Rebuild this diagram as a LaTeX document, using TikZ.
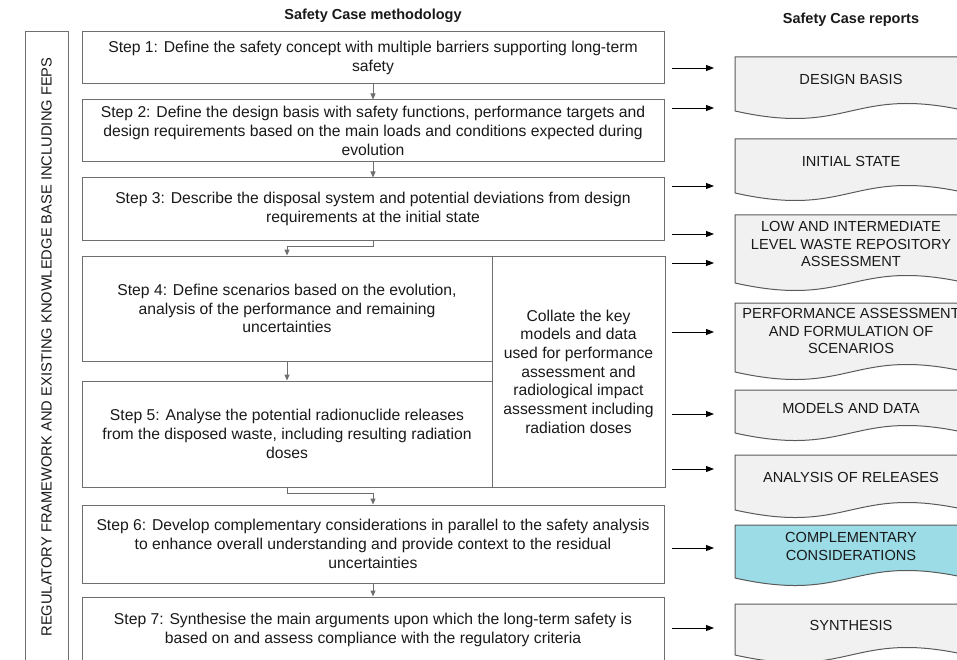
\documentclass[tikz,border=0pt]{standalone}
\usepackage{fontspec}
\setmainfont{Liberation Sans}
\usetikzlibrary{arrows.meta}
\definecolor{boxline}{RGB}{110,110,110}
\definecolor{docline}{RGB}{90,90,90}
\definecolor{docfill}{RGB}{241,241,241}
\definecolor{cyanfill}{RGB}{156,220,231}
\definecolor{txt}{RGB}{25,25,25}
\newcommand{\docshp}[3]{%
  \draw[docborder, fill=#3] (735,#1) -- (967,#1) -- (967,#2)
    .. controls (851,{#2-26}) and (851,{#2+26}) .. (735,#2) -- cycle;}
\tikzset{
  stepbox/.style={draw=boxline, line width=1pt, align=center, text=txt,
    font=\fontsize{15.7}{18.7}\selectfont, inner sep=0pt},
  kbbox/.style={draw=boxline, line width=1pt, align=center, text=txt,
    font=\fontsize{14.7}{17}\selectfont, inner sep=0pt},
  docborder/.style={draw=docline, line width=1pt},
  doctext/.style={align=center, text=txt, font=\fontsize{14.6}{17.2}\selectfont, inner sep=0pt},
  title/.style={font=\fontsize{14.5}{16}\selectfont\bfseries, text=txt, inner sep=0pt},
  outarrow/.style={-{Triangle[length=8pt,width=6pt]}, line width=0.9pt},
  flowarrow/.style={-{Triangle[length=6pt,width=5pt]}, draw=boxline, line width=1pt},
}
\begin{document}
\begin{tikzpicture}[x=1pt,y=-1pt]
\useasboundingbox (0,0) rectangle (957,660);
\clip (0,0) rectangle (957,660);

% titles
\node[title] (t1) at (373,16) {Safety Case methodology};
\node[title] (t2) at (851,20) {Safety Case reports};

% left knowledge base box
\node[kbbox, rotate=90, minimum width=630pt, minimum height=43pt] (kb) at (46.5,347)
  {REGULATORY FRAMEWORK AND EXISTING KNOWLEDGE BASE INCLUDING FEPS};

% steps
\node[stepbox, minimum width=582pt, minimum height=52pt] (s1) at (373,58)
  {Step 1: Define the safety concept with multiple barriers supporting long-term\\safety};
\node[stepbox, minimum width=582pt, minimum height=62pt] (s2) at (373,131)
  {Step 2: Define the design basis with safety functions, performance targets and\\design requirements based on the main loads and conditions expected during\\evolution};
\node[stepbox, minimum width=582pt, minimum height=62pt] (s3) at (373,209)
  {Step 3: Describe the disposal system and potential deviations from design\\requirements at the initial state};
\node[stepbox, minimum width=410pt, minimum height=105pt] (s4) at (287,308.5)
  {Step 4: Define scenarios based on the evolution,\\analysis of the performance and remaining\\uncertainties};
\node[stepbox, minimum width=173pt, minimum height=231pt] (col) at (578.5,371.5)
  {Collate the key\\models and data\\used for performance\\assessment and\\radiological impact\\assessment including\\radiation doses};
\node[stepbox, minimum width=410pt, minimum height=106pt] (s5) at (287,434)
  {Step 5: Analyse the potential radionuclide releases\\from the disposed waste, including resulting radiation\\doses};
\node[stepbox, minimum width=582pt, minimum height=78pt] (s6) at (373,544)
  {Step 6: Develop complementary considerations in parallel to the safety analysis\\to enhance overall understanding and provide context to the residual\\uncertainties};
\node[stepbox, minimum width=582pt, minimum height=66pt] (s7) at (373,630)
  {Step 7: Synthesise the main arguments upon which the long-term safety is\\based on and assess compliance with the regulatory criteria};

% flow connectors
\draw[flowarrow] (s1.south) -- (s2.north);
\draw[flowarrow] (s2.south) -- (s3.north);
\draw[flowarrow] (s3.south) -- ++(0,6) -| (s4.north);
\draw[flowarrow] (s4.south) -- (s5.north);
\draw[flowarrow] (s5.south) -- ++(0,6) -| (s6.north);
\draw[flowarrow] (s6.south) -- (s7.north);

% report documents
\docshp{57}{111}{docfill}
\docshp{139}{193}{docfill}
\docshp{215}{283}{docfill}
\docshp{303}{372}{docfill}
\docshp{390}{433}{docfill}
\docshp{455}{510}{docfill}
\docshp{525}{578}{cyanfill}
\docshp{604}{655}{docfill}

\node[doctext] (r1) at (851,79) {DESIGN BASIS};
\node[doctext] (r2) at (851,161) {INITIAL STATE};
\node[doctext] (r3) at (851,244) {LOW AND INTERMEDIATE\\LEVEL WASTE REPOSITORY\\ASSESSMENT};
\node[doctext] (r4) at (851,331) {PERFORMANCE ASSESSMENT\\AND FORMULATION OF\\SCENARIOS};
\node[doctext] (r5) at (851,408) {MODELS AND DATA};
\node[doctext] (r6) at (851,477) {ANALYSIS OF RELEASES};
\node[doctext] (r7) at (851,546.5) {COMPLEMENTARY\\CONSIDERATIONS};
\node[doctext] (r8) at (851,625) {SYNTHESIS};

% output arrows
\foreach \yy [count=\i] in {68,108,186,234,263,332,414,469,548,628} {
  \coordinate (a\i) at (672,\yy);
  \coordinate (b\i) at (714,\yy);
  \draw[outarrow] (a\i) -- (b\i);
}
\end{tikzpicture}
\end{document}
